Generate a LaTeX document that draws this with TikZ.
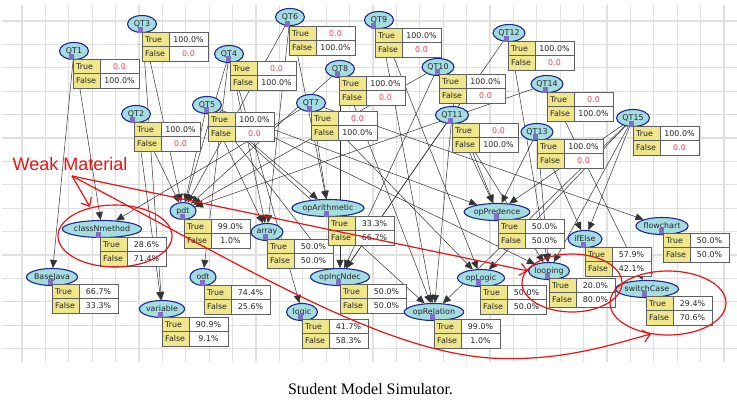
\documentclass[tikz,border=0pt]{standalone}
\usepackage{fontspec}
\setmainfont{Liberation Serif}
\newfontfamily\guifont{DejaVu Sans}
\newfontfamily\annfont{Liberation Sans}
\usetikzlibrary{shapes.geometric,arrows.meta}
\pgfdeclarelayer{bg}
\pgfdeclarelayer{edges}
\pgfdeclarelayer{top}
\pgfsetlayers{bg,edges,main,top}
\definecolor{ellfill}{HTML}{A4DCE2}
\definecolor{elldraw}{HTML}{1C2A8C}
\definecolor{tyel}{HTML}{F0E68C}
\definecolor{tbord}{HTML}{606060}
\definecolor{valred}{HTML}{FF3B4E}
\definecolor{annred}{HTML}{EE1111}
\definecolor{gridc}{HTML}{E0E0E0}
\definecolor{tabc}{HTML}{7B6FC9}
\tikzset{
 bnell/.style={ellipse, draw=elldraw, fill=ellfill, line width=1.1pt, inner sep=0pt,
   minimum height=17pt, font=\guifont\fontsize{7.9}{9}\selectfont, text=black!85},
 edge/.style={draw=black!80, line width=0.5pt, -{Triangle[length=8pt,width=7pt]}},
 cell/.style={font=\guifont\fontsize{7.9}{9}\selectfont, inner sep=0pt, text=black!85,
   text height=5.8pt, text depth=0pt},
 ann/.style={draw=annred, line width=1.2pt},
 annarrow/.style={ann, -{Straight Barb[length=7pt,width=12pt]}},
}
\newcommand{\Z}{\textcolor{valred}{0.0}}
\newcommand{\bnode}[9]{%
 \node[bnell, minimum width=#5pt] (#1) at (#3,#4) {#2};
 \begin{scope}[shift={(#6,#7)}]
  \fill[tabc] (-4,-5) rectangle (1,1);
  \fill[tyel] (0,0) rectangle (27,29);
  \fill[white] (27,0) rectangle (66,29);
  \draw[tbord, line width=0.8pt] (0,0) rectangle (66,29) (0,14.5) -- (66,14.5) (27,0) -- (27,29);
  \node[cell, anchor=west] at (3,7.25) {True};
  \node[cell, anchor=west] at (3,21.75) {False};
  \node[cell] at (46.5,7.25) {#8};
  \node[cell] at (46.5,21.75) {#9};
 \end{scope}
}
\begin{document}
\begin{tikzpicture}[x=1pt,y=-1pt]
\useasboundingbox (0,0) rectangle (737,413);
\begin{pgfonlayer}{bg}
 \fill[white] (0,0) rectangle (737,413);
 \foreach \k in {0,...,30} \draw[gridc, line width=1.1pt] ({22+23.4*\k},5) -- ({22+23.4*\k},362);
 \foreach \k in {0,...,14} \draw[gridc, line width=1.1pt] (2,{21+23.4*\k}) -- (737,{21+23.4*\k});
\end{pgfonlayer}

\bnode{QT1}{QT1}{74}{51}{29}{73}{59}{\Z}{100.0\%}
\bnode{QT2}{QT2}{136}{114}{29}{134}{122}{100.0\%}{\Z}
\bnode{QT3}{QT3}{142}{24}{29}{142}{32}{100.0\%}{\Z}
\bnode{QT4}{QT4}{229}{54}{29}{230}{61}{\Z}{100.0\%}
\bnode{QT5}{QT5}{207}{105}{29}{208}{112}{100.0\%}{\Z}
\bnode{QT6}{QT6}{290}{17}{29}{289}{26}{\Z}{100.0\%}
\bnode{QT7}{QT7}{311}{103}{29}{311}{111}{\Z}{100.0\%}
\bnode{QT8}{QT8}{340}{69}{29}{339}{76}{100.0\%}{\Z}
\bnode{QT9}{QT9}{379}{20}{29}{375}{28}{100.0\%}{\Z}
\bnode{QT10}{QT10}{438}{67}{32}{439}{74}{100.0\%}{\Z}
\bnode{QT11}{QT11}{452}{115}{33}{452}{123}{\Z}{100.0\%}
\bnode{QT12}{QT12}{509}{33}{32}{508}{41}{100.0\%}{\Z}
\bnode{QT13}{QT13}{537}{132}{32}{537}{139}{100.0\%}{\Z}
\bnode{QT14}{QT14}{547}{84}{32}{547}{92}{\Z}{100.0\%}
\bnode{QT15}{QT15}{633}{118}{33}{633}{126}{100.0\%}{\Z}

\bnode{classNmethod}{classNmethod}{102}{229}{70}{100}{237}{28.6\%}{71.4\%}
\bnode{pdt}{pdt}{183}{211}{26}{184}{219}{99.0\%}{1.0\%}
\bnode{BaseJava}{BaseJava}{52}{277}{51}{52}{284}{66.7\%}{33.3\%}
\bnode{odt}{odt}{203}{277}{26}{204}{285}{74.4\%}{25.6\%}
\bnode{variable}{variable}{162}{309}{44}{162}{317}{90.9\%}{9.1\%}
\bnode{array}{array}{267}{232}{32}{267}{239}{50.0\%}{50.0\%}
\bnode{opArithmetic}{opArithmetic}{328}{208}{64}{328}{216}{33.3\%}{66.7\%}
\bnode{opIncNdec}{opIncNdec}{340}{277}{57}{340}{284}{50.0\%}{50.0\%}
\bnode{logic}{logic}{302}{312}{31}{302}{319}{41.7\%}{58.3\%}
\bnode{opRelation}{opRelation}{434}{312}{56}{434}{319}{99.0\%}{1.0\%}
\bnode{opLogic}{opLogic}{481}{278}{47}{480}{285}{50.0\%}{50.0\%}
\bnode{opPredence}{opPredence}{497}{212}{64}{498}{219}{50.0\%}{50.0\%}
\bnode{ifElse}{ifElse}{585}{239}{34}{585}{247}{57.9\%}{42.1\%}
\bnode{flowchart}{flowchart}{662}{226}{51}{663}{233}{50.0\%}{50.0\%}
\bnode{looping}{looping}{549}{271}{41}{549}{278}{20.0\%}{80.0\%}
\bnode{switchCase}{switchCase}{647}{289}{59}{646}{296}{29.4\%}{70.6\%}

\begin{pgfonlayer}{edges}
 \foreach \a/\b in {QT1/BaseJava, QT1/classNmethod, QT2/variable, QT2/pdt, QT3/variable, QT3/pdt,
   QT4/pdt, QT4/array, QT4/logic, QT4/odt, QT5/pdt, QT5/array, QT5/opArithmetic, QT5/opRelation,
   QT5/opPredence, QT5/looping, QT5/opIncNdec, QT6/pdt, QT6/opArithmetic, QT6/array,
   QT7/classNmethod, QT7/opArithmetic, QT7/flowchart, QT7/opLogic, QT8/opIncNdec, QT8/opRelation,
   QT8/pdt, QT9/opLogic, QT9/opRelation, QT10/pdt, QT10/opIncNdec, QT10/opPredence,
   QT11/opPredence, QT11/opRelation, QT11/looping, QT11/opIncNdec, QT12/looping, QT12/opIncNdec,
   QT13/ifElse, QT13/looping, QT13/opPredence, QT14/switchCase, QT14/pdt, QT15/ifElse,
   QT15/looping, QT15/opLogic, QT15/opRelation, QT15/opPredence}
   \draw[edge] (\a) -- (\b);
\end{pgfonlayer}

\begin{pgfonlayer}{top}
 \node[font=\annfont\fontsize{18}{21}\selectfont, text=annred, anchor=base west, inner sep=0pt] (weak) at (12.5,170) {Weak Material};
 \coordinate (wp) at (72,176);
 \coordinate (t1) at (90,207);
 \coordinate (t2) at (528,271);
 \coordinate (t3) at (651,334);
 \draw[annarrow] (wp) -- (t1);
 \draw[annarrow] (wp) -- (t2);
 \draw[annarrow] (wp) .. controls (250,270) and (380,350) .. (490,358) .. controls (560,362) and (610,345) .. (t3);
 \draw[ann] (115,236) ellipse [x radius=57pt, y radius=31pt];
 \draw[ann] (572,283) ellipse [x radius=50pt, y radius=29pt];
 \draw[ann] (668,303) ellipse [x radius=58pt, y radius=32pt];
\end{pgfonlayer}
\node[font=\fontsize{16}{19}\selectfont, inner sep=0pt] (cap) at (370.5,389) {Student Model Simulator.};
\end{tikzpicture}
\end{document}
